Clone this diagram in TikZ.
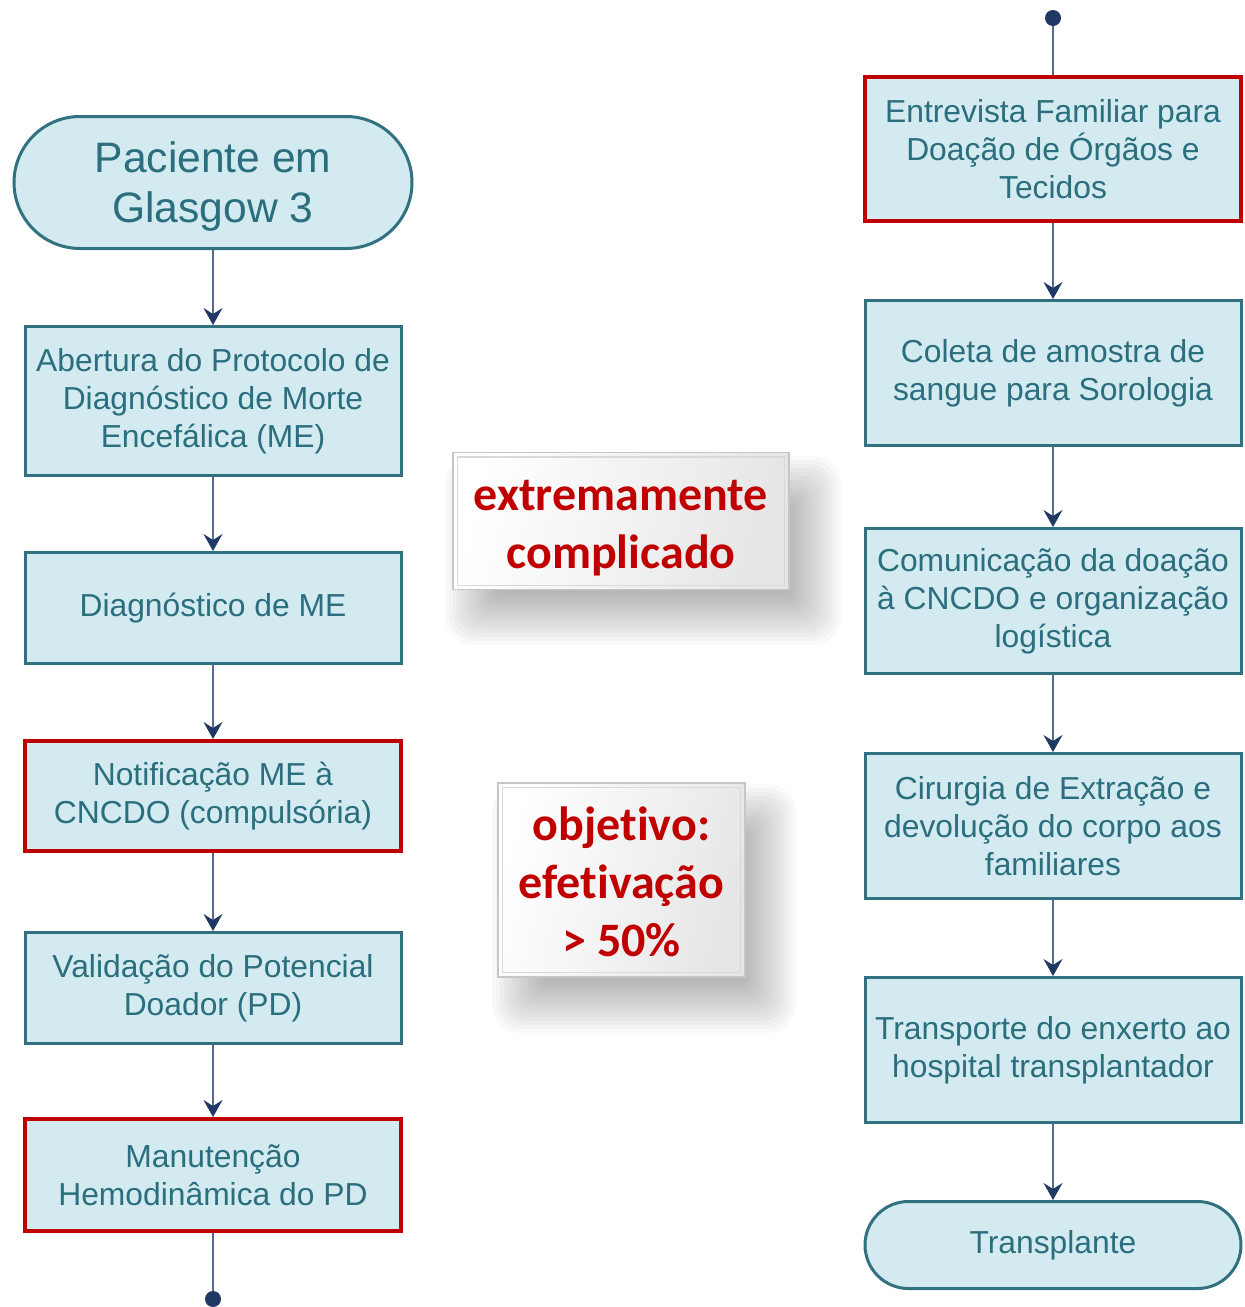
\documentclass[tikz,border=0pt]{standalone}
\usepackage{fontspec}
\setmainfont{Liberation Sans}
\newfontfamily\calib[Ligatures=NoCommon]{Carlito}
\usetikzlibrary{shapes.misc,arrows.meta}
\definecolor{boxfill}{RGB}{210,234,240}
\definecolor{boxline}{RGB}{49,113,128}
\definecolor{boxtext}{RGB}{43,110,126}
\definecolor{redline}{RGB}{192,0,0}
\definecolor{navy}{RGB}{31,56,100}
\definecolor{connc}{RGB}{84,108,138}
\newcommand\softshadow[4]{%
  \foreach \i in {0,...,13}{%
    \fill[black,opacity=0.022,rounded corners=14pt-\i*1pt]
      (#1-28+\i*4,#2-28+\i*4) rectangle (#3+28-\i*4,#4+28-\i*4);}}
\begin{document}
\begin{tikzpicture}[x=0.5pt,y=-0.5pt,
 proc/.style={draw=boxline, line width=1.5pt, fill=boxfill, text=boxtext, align=center,
   minimum width=188pt, font=\fontsize{15.9}{19}\selectfont, inner sep=0pt},
 redproc/.style={proc, draw=redline, line width=2pt},
 term/.style={proc, rounded rectangle},
 conn/.style={draw=connc, line width=0.8pt, -{Stealth[length=8.5pt,width=9.5pt,inset=3pt,color=navy,fill=navy]}},
 plainline/.style={draw=connc, line width=0.8pt},
 enddot/.style={circle, fill=navy, inner sep=0pt, minimum size=8pt},
 callout/.style={draw=gray!45, line width=0.6pt, left color=white, right color=gray!20,
   shading angle=75, inner sep=0pt},
 callouttext/.style={text=redline, font=\calib\bfseries\fontsize{24}{29}\selectfont, align=center, inner sep=0pt},
 termtext/.style={text=boxtext, align=center, inner sep=0pt, font=\fontsize{21.3}{25}\selectfont}
]
\useasboundingbox (0,0) rectangle (1245,1307);

% left column
\node[term, minimum width=199pt, minimum height=66pt] (t1) at (213,182.5) {};
\node[termtext] (t1t) at (213,186) {Paciente em\\Glasgow 3};
\node[proc, minimum height=74.5pt] (b1) at (213,401) {Abertura do Protocolo de\\Diagnóstico de Morte\\Encefálica (ME)};
\node[proc, minimum height=55.5pt] (b2) at (213,608) {Diagnóstico de ME};
\node[redproc, minimum height=55pt] (b3) at (213,796) {Notificação ME à\\CNCDO (compulsória)};
\node[proc, minimum height=55.5pt] (b4) at (213,988) {Validação do Potencial\\Doador (PD)};
\node[redproc, minimum height=56pt] (b5) at (213,1175) {Manutenção\\Hemodinâmica do PD};
\node[enddot] (dl) at (213,1299) {};

% right column
\node[enddot] (dr) at (1053,18) {};
\node[redproc, minimum height=72pt] (r1) at (1053,149) {Entrevista Familiar para\\Doação de Órgãos e\\Tecidos};
\node[proc, minimum height=72.5pt] (r2) at (1053,373) {Coleta de amostra de\\sangue para Sorologia};
\node[proc, minimum height=72.5pt] (r3) at (1053,601) {Comunicação da doação\\à CNCDO e organização\\logística};
\node[proc, minimum height=72.5pt] (r4) at (1053,826) {Cirurgia de Extração e\\devolução do corpo aos\\familiares};
\node[proc, minimum height=72.5pt] (r5) at (1053,1050) {Transporte do enxerto ao\\hospital transplantador};
\node[term, minimum height=43.5pt] (tr) at (1053,1245) {Transplante};

% connectors
\draw[conn] (t1) -- (b1);
\draw[conn] (b1) -- (b2);
\draw[conn] (b2) -- (b3);
\draw[conn] (b3) -- (b4);
\draw[conn] (b4) -- (b5);
\draw[plainline] (b5) -- (dl);
\draw[plainline] (dr) -- (r1);
\draw[conn] (r1) -- (r2);
\draw[conn] (r2) -- (r3);
\draw[conn] (r3) -- (r4);
\draw[conn] (r4) -- (r5);
\draw[conn] (r5) -- (tr);

% callouts with soft shadows
\softshadow{473}{484}{813}{617}
\node[callout, minimum width=168pt, minimum height=68.5pt] (c1) at (621,521) {};
\draw[gray!30, line width=0.6pt] ([shift={(2.5pt,-2.5pt)}]c1.north west) rectangle ([shift={(-2.5pt,2.5pt)}]c1.south east);
\node[callouttext] (c1t) at (621,528) {extremamente\\complicado};

\softshadow{520}{812}{768}{1005}
\node[callout, minimum width=123.5pt, minimum height=97pt] (c2) at (621.5,880) {};
\draw[gray!30, line width=0.6pt] ([shift={(2.5pt,-2.5pt)}]c2.north west) rectangle ([shift={(-2.5pt,2.5pt)}]c2.south east);
\node[callouttext] (c2t) at (621.5,882) {objetivo:\\efetivação\\> 50\%};
\end{tikzpicture}
\end{document}
